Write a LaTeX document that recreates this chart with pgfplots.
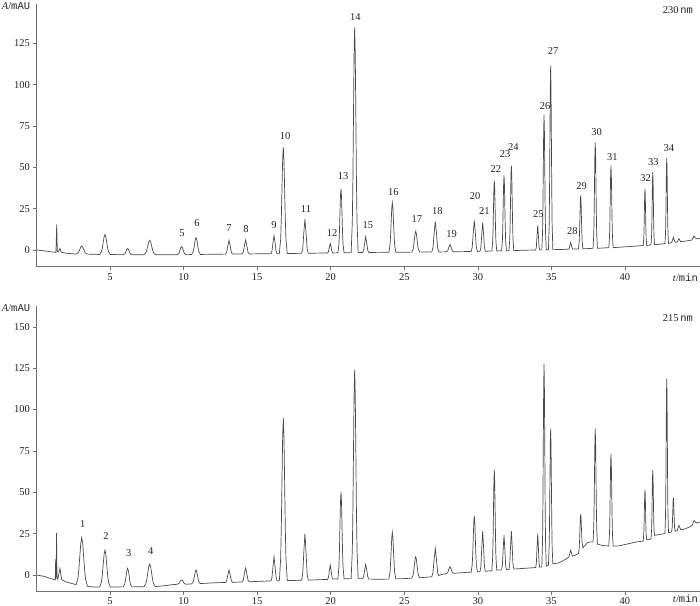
\documentclass[border=0pt]{standalone}
\usepackage{fontspec}
\setmainfont{Liberation Serif}
\setmonofont{Liberation Mono}
\usepackage{pgfplots}
\pgfplotsset{compat=1.18}
\definecolor{trace}{HTML}{4A4A4A}
\definecolor{axisgrey}{HTML}{707070}
\definecolor{ink}{HTML}{222222}

\pgfplotsset{chrom/.style={
  scale only axis, width=663.6bp, xmin=0, xmax=45.1, ymin=-10,
  axis lines=left, axis line style={-, draw=axisgrey, line width=0.6bp},
  tick align=outside, major tick length=3bp,
  tick style={draw=axisgrey, line width=0.6bp},
  xtick={5,10,...,40}, clip=false,
  tick label style={font=\fontsize{10.5}{12}\selectfont, text=ink},
  /pgf/number format/assume math mode=true,
}}
\tikzset{pk/.style={font=\fontsize{10.5}{12}\selectfont, text=ink, inner sep=0pt}}

\begin{document}
\begin{tikzpicture}
% 230 nm
\begin{axis}[chrom, at={(36.4bp,339.3bp)}, anchor=south west,
  height=262.7bp, ymax=148.7, ytick={0,25,...,125}]
\addplot[draw=trace, line width=0.7bp, mark=none] coordinates {
(0,0.2) (0.5,-0.4) (1.0,-1.0) (1.33,-1.4) (1.38,15.6) (1.42,-0.6) (1.48,-1.0) (1.60,1.0) (1.70,-1.3) (2.0,-1.8) (2.6,-2.3)
(2.69,-2.4) (2.82,-1.75) (2.885,-0.84) (2.95,0.51) (3.015,1.83) (3.08,2.4) (3.145,1.83) (3.21,0.51) (3.275,-0.84) (3.34,-1.75) (3.47,-2.4)
(4.30,-2.6) (4.42,-1.0) (4.48,1.3) (4.54,4.7) (4.60,8.0) (4.66,9.4) (4.72,8.0) (4.78,4.7) (4.84,1.3) (4.90,-1.0) (5.02,-2.6)
(5.90,-2.8) (6.00,-2.3) (6.05,-1.6) (6.10,-0.5) (6.15,0.55) (6.20,1.0) (6.25,0.55) (6.30,-0.5) (6.35,-1.6) (6.40,-2.3) (6.50,-2.8)
(7.31,-2.8) (7.44,-1.6) (7.505,0.1) (7.57,2.5) (7.635,5.0) (7.70,6.0) (7.765,5.0) (7.83,2.5) (7.895,0.1) (7.96,-1.6) (8.09,-2.8)
(9.57,-2.8) (9.67,-2.1) (9.72,-1.2) (9.77,0.2) (9.82,1.6) (9.87,2.2) (9.92,1.6) (9.97,0.2) (10.02,-1.2) (10.07,-2.1) (10.17,-2.8)
(10.55,-2.6) (10.65,-1.2) (10.70,0.7) (10.75,3.6) (10.80,6.4) (10.85,7.6) (10.90,6.4) (10.95,3.6) (11.00,0.7) (11.05,-1.2) (11.15,-2.6)
(12.85,-2.4) (12.93,-1.3) (13.01,2.6) (13.09,5.9) (13.17,2.6) (13.25,-1.3) (13.33,-2.4)
(13.98,-2.3) (14.06,-1.2) (14.14,2.7) (14.22,6.0) (14.30,2.7) (14.38,-1.2) (14.46,-2.3)
(15.94,-2.1) (16.01,-0.6) (16.08,4.5) (16.15,8.8) (16.22,4.5) (16.29,-0.6) (16.36,-2.1)
(16.51,-2.1) (16.60,6.6) (16.645,18.8) (16.69,36.9) (16.735,54.6) (16.78,62.2) (16.825,54.6) (16.87,36.9) (16.915,18.8) (16.96,6.6) (17.05,-2.1)
(18.025,-1.9) (18.10,0.9) (18.175,10.6) (18.25,18.7) (18.325,10.6) (18.40,0.9) (18.475,-1.9)
(19.79,-1.7) (19.85,-0.9) (19.91,1.8) (19.97,4.0) (20.03,1.8) (20.09,-0.9) (20.15,-1.7)
(20.49,-1.6) (20.56,3.6) (20.595,11.0) (20.63,22.0) (20.665,32.6) (20.70,37.2) (20.735,32.6) (20.77,22.0) (20.805,11.0) (20.84,3.6) (20.91,-1.6)
(21.39,-1.5) (21.47,16.9) (21.51,42.7) (21.55,81.1) (21.59,118.5) (21.63,134.5) (21.67,118.5) (21.71,81.1) (21.75,42.7) (21.79,16.9) (21.87,-1.5)
(22.17,-1.4) (22.24,-0.1) (22.31,4.3) (22.38,8.0) (22.45,4.3) (22.52,-0.1) (22.59,-1.4)
(23.95,-1.3) (24.03,2.8) (24.07,8.4) (24.11,16.9) (24.15,25.2) (24.19,28.7) (24.23,25.2) (24.27,16.9) (24.31,8.4) (24.35,2.8) (24.43,-1.3)
(25.51,-1.2) (25.60,0.5) (25.645,2.9) (25.69,6.4) (25.735,9.9) (25.78,11.4) (25.825,9.9) (25.87,6.4) (25.915,2.9) (25.96,0.5) (26.05,-1.2)
(26.87,-1.1) (26.95,1.4) (27.03,10.1) (27.11,17.3) (27.19,10.1) (27.27,1.4) (27.35,-1.1)
(27.87,-1.0) (27.95,-0.4) (28.03,1.7) (28.11,3.4) (28.19,1.7) (28.27,-0.4) (28.35,-1.0)
(29.55,-0.8) (29.62,1.7) (29.69,10.6) (29.76,18.0) (29.83,10.6) (29.90,1.7) (29.97,-0.8)
(30.15,-0.7) (30.21,1.7) (30.27,9.9) (30.33,16.7) (30.39,9.9) (30.45,1.7) (30.51,-0.7)
(30.955,-0.5) (31.01,5.3) (31.038,13.4) (31.065,25.4) (31.093,37.2) (31.12,42.2) (31.148,37.2) (31.175,25.4) (31.203,13.4) (31.23,5.3) (31.285,-0.5)
(31.615,-0.4) (31.67,5.8) (31.698,14.4) (31.725,27.3) (31.753,39.8) (31.78,45.2) (31.808,39.8) (31.835,27.3) (31.863,14.4) (31.89,5.8) (31.945,-0.4)
(32.115,-0.3) (32.17,6.6) (32.198,16.4) (32.225,30.8) (32.253,44.9) (32.28,51.0) (32.308,44.9) (32.335,30.8) (32.363,16.4) (32.39,6.6) (32.445,-0.3)
(33.0,-0.1)
(33.935,0.1) (33.98,2.1) (34.025,9.1) (34.07,15.0) (34.115,9.1) (34.16,2.1) (34.205,0.1)
(34.35,0.2) (34.40,11.2) (34.425,26.6) (34.45,49.5) (34.475,71.9) (34.50,81.5) (34.525,71.9) (34.55,49.5) (34.575,26.6) (34.60,11.2) (34.65,0.2)
(34.80,0.3) (34.85,15.3) (34.875,36.4) (34.90,67.7) (34.925,98.3) (34.95,111.4) (34.975,98.3) (35.00,67.7) (35.025,36.4) (35.05,15.3) (35.10,0.3)
(35.7,0.4)
(36.16,0.6) (36.21,1.1) (36.26,3.0) (36.31,4.6) (36.36,3.0) (36.41,1.1) (36.46,0.6)
(36.84,0.8) (36.89,5.2) (36.915,11.3) (36.94,20.4) (36.965,29.3) (36.99,33.1) (37.015,29.3) (37.04,20.4) (37.065,11.3) (37.09,5.2) (37.14,0.8)
(37.83,1.1) (37.88,9.7) (37.905,21.9) (37.93,39.9) (37.955,57.5) (37.98,65.0) (38.005,57.5) (38.03,39.9) (38.055,21.9) (38.08,9.7) (38.13,1.1)
(38.90,1.5) (38.95,8.2) (38.975,17.6) (39.00,31.5) (39.025,45.2) (39.05,51.0) (39.075,45.2) (39.10,31.5) (39.125,17.6) (39.15,8.2) (39.20,1.5)
(40.0,2.0) (41.0,2.6)
(41.24,2.8) (41.28,7.4) (41.30,14.0) (41.32,23.7) (41.34,33.1) (41.36,37.2) (41.38,33.1) (41.40,23.7) (41.42,14.0) (41.44,7.4) (41.48,2.8)
(41.77,3.2) (41.81,9.1) (41.83,17.5) (41.85,29.9) (41.87,42.0) (41.89,47.2) (41.91,42.0) (41.93,29.9) (41.95,17.5) (41.97,9.1) (42.01,3.2)
(42.72,4.0) (42.76,11.0) (42.78,20.8) (42.80,35.4) (42.82,49.7) (42.84,55.8) (42.86,49.7) (42.88,35.4) (42.90,20.8) (42.92,11.0) (42.96,4.0)
(43.17,4.6) (43.25,6.5) (43.29,7.8) (43.33,6.5) (43.41,4.7)
(43.55,4.9) (43.63,6.2) (43.67,7.0) (43.71,6.2) (43.79,5.1)
(44.3,5.7)
(44.55,6.1) (44.64,7.6) (44.69,8.5) (44.74,7.8) (44.85,6.9) (45.1,7.0)
};
\node[pk] at (axis cs:9.90,10.3) {5};
\node[pk] at (axis cs:10.91,16.3) {6};
\node[pk] at (axis cs:13.09,13.3) {7};
\node[pk] at (axis cs:14.24,12.7) {8};
\node[pk] at (axis cs:16.15,15.1) {9};
\node[pk] at (axis cs:16.90,68.9) {10};
\node[pk] at (axis cs:18.32,24.8) {11};
\node[pk] at (axis cs:20.09,10.3) {12};
\node[pk] at (axis cs:20.84,44.7) {13};
\node[pk] at (axis cs:21.67,141.0) {14};
\node[pk] at (axis cs:22.52,15.1) {15};
\node[pk] at (axis cs:24.26,35.3) {16};
\node[pk] at (axis cs:25.85,18.7) {17};
\node[pk] at (axis cs:27.25,23.8) {18};
\node[pk] at (axis cs:28.22,9.7) {19};
\node[pk] at (axis cs:29.81,32.8) {20};
\node[pk] at (axis cs:30.44,23.8) {21};
\node[pk] at (axis cs:31.22,49.0) {22};
\node[pk] at (axis cs:31.85,57.9) {23};
\node[pk] at (axis cs:32.41,62.5) {24};
\node[pk] at (axis cs:34.11,21.6) {25};
\node[pk] at (axis cs:34.57,87.2) {26};
\node[pk] at (axis cs:35.11,120.5) {27};
\node[pk] at (axis cs:36.42,11.5) {28};
\node[pk] at (axis cs:37.06,38.9) {29};
\node[pk] at (axis cs:38.08,71.2) {30};
\node[pk] at (axis cs:39.14,56.4) {31};
\node[pk] at (axis cs:41.41,43.3) {32};
\node[pk] at (axis cs:41.93,53.0) {33};
\node[pk] at (axis cs:42.99,61.9) {34};
\node[pk, anchor=east] at (rel axis cs:1,1) [xshift=-7bp, yshift=-6bp] {230\,\texttt{nm}};
\node[pk, anchor=east] at (rel axis cs:1,0) [xshift=-2bp, yshift=-11.3bp] {\textit{t}/\texttt{min}};
\node[pk] at (rel axis cs:0,1) [xshift=-20.4bp, yshift=-2bp] {\textit{A}/\texttt{mAU}};
\end{axis}
% 215 nm
\begin{axis}[chrom, at={(36.4bp,14.5bp)}, anchor=south west,
  height=285.5bp, ymax=162.6, ytick={0,25,...,150}]
\addplot[draw=trace, line width=0.7bp, mark=none] coordinates {
(0,0) (0.5,-0.8) (1.0,-2.2) (1.28,-3.0) (1.31,9.4) (1.34,-2.4) (1.37,25.5) (1.40,-1.0) (1.46,-2.5) (1.60,4.0) (1.72,-2.8) (2.0,-4.2) (2.6,-5.6)
(2.69,-6.0) (2.82,-2.2) (2.885,3.3) (2.95,11.3) (3.015,19.1) (3.08,22.5) (3.145,19.1) (3.21,11.3) (3.275,3.3) (3.34,-2.4) (3.47,-6.8)
(3.9,-7.3)
(4.30,-7.3) (4.42,-4.3) (4.48,0.0) (4.54,6.2) (4.60,12.4) (4.66,15.0) (4.72,12.4) (4.78,6.2) (4.84,0.0) (4.90,-4.3) (5.02,-7.3)
(5.90,-7.2) (6.00,-5.7) (6.05,-3.6) (6.10,-0.4) (6.15,2.7) (6.20,4.0) (6.25,2.7) (6.30,-0.4) (6.35,-3.6) (6.40,-5.7) (6.50,-7.2)
(7.31,-7.1) (7.44,-5.3) (7.505,-2.7) (7.57,1.2) (7.635,5.0) (7.70,6.6) (7.765,5.0) (7.83,1.2) (7.895,-2.7) (7.96,-5.3) (8.09,-7.0)
(8.6,-6.6) (9.2,-5.9)
(9.57,-5.6) (9.67,-5.25) (9.72,-4.75) (9.77,-4.0) (9.82,-3.3) (9.87,-3.0) (9.92,-3.3) (9.97,-4.0) (10.02,-4.75) (10.07,-5.25) (10.17,-5.6)
(10.55,-5.4) (10.65,-4.3) (10.70,-2.7) (10.75,-0.3) (10.80,2.0) (10.85,3.0) (10.90,2.0) (10.95,-0.3) (11.00,-2.7) (11.05,-4.3) (11.15,-5.2)
(12.0,-4.8)
(12.85,-4.5) (12.93,-3.5) (13.01,0.0) (13.09,3.0) (13.17,0.0) (13.25,-3.5) (13.33,-4.5)
(13.98,-4.2) (14.06,-3.1) (14.14,0.9) (14.22,4.2) (14.30,0.9) (14.38,-3.1) (14.46,-4.1)
(15.3,-3.8)
(15.94,-3.6) (16.01,-1.6) (16.08,5.3) (16.15,11.0) (16.22,5.3) (16.29,-1.6) (16.36,-3.5)
(16.51,-3.5) (16.60,9.8) (16.645,28.5) (16.69,56.3) (16.735,83.4) (16.78,95.0) (16.825,83.4) (16.87,56.3) (16.915,28.5) (16.96,9.8) (17.05,-3.4)
(18.025,-3.2) (18.10,0.6) (18.175,13.9) (18.25,25.0) (18.325,13.9) (18.40,0.6) (18.475,-3.1)
(19.79,-2.7) (19.85,-1.5) (19.91,2.6) (19.97,6.0) (20.03,2.6) (20.09,-1.5) (20.15,-2.5)
(20.49,-2.4) (20.56,4.7) (20.595,14.7) (20.63,29.5) (20.665,44.0) (20.70,50.2) (20.735,44.0) (20.77,29.5) (20.805,14.7) (20.84,4.7) (20.91,-2.3)
(21.39,-2.2) (21.47,14.8) (21.51,38.8) (21.55,74.4) (21.59,109.1) (21.63,124.0) (21.67,109.1) (21.71,74.4) (21.75,38.8) (21.79,14.8) (21.87,-2.2)
(22.17,-2.3) (22.24,-1.1) (22.31,3.0) (22.38,6.4) (22.45,3.0) (22.52,-1.1) (22.59,-2.5)
(23.2,-2.6)
(23.95,-2.5) (24.03,1.3) (24.07,6.7) (24.11,14.6) (24.15,22.4) (24.19,25.7) (24.23,22.4) (24.27,14.6) (24.31,6.7) (24.35,1.3) (24.43,-2.4)
(25.2,-2.1)
(25.51,-1.9) (25.60,-0.2) (25.645,2.3) (25.69,5.9) (25.735,9.5) (25.78,11.0) (25.825,9.5) (25.87,5.9) (25.915,2.3) (25.96,-0.2) (26.05,-1.7)
(26.6,-1.3)
(26.87,-1.1) (26.95,1.2) (27.03,9.3) (27.11,16.0) (27.19,9.3) (27.27,1.2) (27.35,-0.3)
(27.6,0.4)
(27.87,0.8) (27.95,1.4) (28.03,3.4) (28.11,5.0) (28.19,3.4) (28.27,1.4) (28.35,1.0)
(29.3,1.6)
(29.55,1.7) (29.62,6.3) (29.655,12.8) (29.69,22.3) (29.725,31.7) (29.76,35.7) (29.795,31.7) (29.83,22.3) (29.865,12.8) (29.90,6.3) (29.97,1.9)
(30.15,2.0) (30.21,5.3) (30.27,16.9) (30.33,26.5) (30.39,16.9) (30.45,5.3) (30.51,2.2)
(30.955,2.6) (31.01,10.9) (31.038,22.5) (31.065,39.7) (31.093,56.5) (31.12,63.7) (31.148,56.5) (31.175,39.7) (31.203,22.5) (31.23,10.9) (31.285,2.9)
(31.615,3.1) (31.67,5.9) (31.725,15.8) (31.78,24.0) (31.835,15.8) (31.89,5.9) (31.945,3.2)
(32.115,3.3) (32.17,6.4) (32.225,17.4) (32.28,26.5) (32.335,17.4) (32.39,6.4) (32.445,3.6)
(33.0,3.9) (33.8,4.4)
(33.935,4.5) (33.98,7.3) (34.025,16.9) (34.07,25.0) (34.115,16.9) (34.16,7.3) (34.205,4.7)
(34.35,4.9) (34.40,21.5) (34.425,44.7) (34.45,79.3) (34.475,113.0) (34.50,127.5) (34.525,113.0) (34.55,79.3) (34.575,44.7) (34.60,21.5) (34.65,5.3)
(34.80,6.0) (34.85,17.1) (34.875,32.8) (34.90,56.0) (34.925,78.7) (34.95,88.4) (34.975,78.7) (35.00,56.0) (35.025,32.8) (35.05,17.1) (35.10,6.7)
(35.5,7.3) (35.8,8.6) (36.1,10.3)
(36.16,10.8) (36.21,11.6) (36.26,13.4) (36.31,15.0) (36.36,13.4) (36.41,11.8) (36.46,11.4)
(36.75,12.5)
(36.84,13.0) (36.89,16.2) (36.915,20.7) (36.94,27.4) (36.965,33.9) (36.99,36.7) (37.015,34.3) (37.04,28.8) (37.065,23.1) (37.09,19.2) (37.14,16.5)
(37.3,18.0) (37.45,19.5) (37.7,20.0)
(37.83,20.0) (37.88,29.2) (37.905,42.2) (37.93,61.5) (37.955,80.3) (37.98,88.4) (38.005,80.2) (38.03,60.9) (38.055,41.2) (38.08,27.9) (38.13,18.6)
(38.5,17.8)
(38.90,17.5) (38.95,25.0) (38.975,35.6) (39.00,51.4) (39.025,66.7) (39.05,73.3) (39.075,66.7) (39.10,51.4) (39.125,35.6) (39.15,25.0) (39.20,17.4)
(39.6,17.6) (40.2,18.8) (40.8,20.0) (41.2,20.4)
(41.24,20.5) (41.28,24.7) (41.30,30.6) (41.32,39.4) (41.34,47.9) (41.36,51.6) (41.38,47.9) (41.40,39.4) (41.42,30.6) (41.44,24.8) (41.48,21.3)
(41.7,21.6)
(41.77,21.8) (41.81,27.4) (41.83,35.3) (41.85,47.0) (41.87,58.4) (41.89,63.3) (41.91,58.5) (41.93,47.3) (41.95,35.7) (41.97,27.9) (42.01,24.0)
(42.4,24.5) (42.68,25.0)
(42.72,25.0) (42.76,37.6) (42.78,55.4) (42.80,81.8) (42.82,107.5) (42.84,118.5) (42.86,107.5) (42.88,81.8) (42.90,55.4) (42.92,37.6) (42.96,25.6)
(43.17,26.0) (43.21,28.8) (43.23,32.8) (43.25,38.6) (43.27,44.3) (43.29,46.8) (43.31,44.3) (43.33,38.6) (43.35,32.8) (43.37,28.8) (43.41,26.4)
(43.55,26.8) (43.62,28.6) (43.67,30.0) (43.72,28.8) (43.80,27.3)
(44.0,27.6) (44.4,29.0)
(44.58,30.0) (44.64,32.0) (44.69,33.0) (44.74,32.3) (44.85,31.4) (45.1,32.0)
};
\node[pk] at (axis cs:3.15,30.8) {1};
\node[pk] at (axis cs:4.73,23.8) {2};
\node[pk] at (axis cs:6.27,13.1) {3};
\node[pk] at (axis cs:7.77,14.7) {4};
\node[pk, anchor=east] at (rel axis cs:1,1) [xshift=-7bp, yshift=-12bp] {215\,\texttt{nm}};
\node[pk, anchor=east] at (rel axis cs:1,0) [xshift=-2bp, yshift=-7bp] {\textit{t}/\texttt{min}};
\node[pk] at (rel axis cs:0,1) [xshift=-20.4bp, yshift=-2bp] {\textit{A}/\texttt{mAU}};
\end{axis}
\pgfresetboundingbox
\path[use as bounding box] (0,0) rectangle (700bp,606bp);
\end{tikzpicture}
\end{document}
